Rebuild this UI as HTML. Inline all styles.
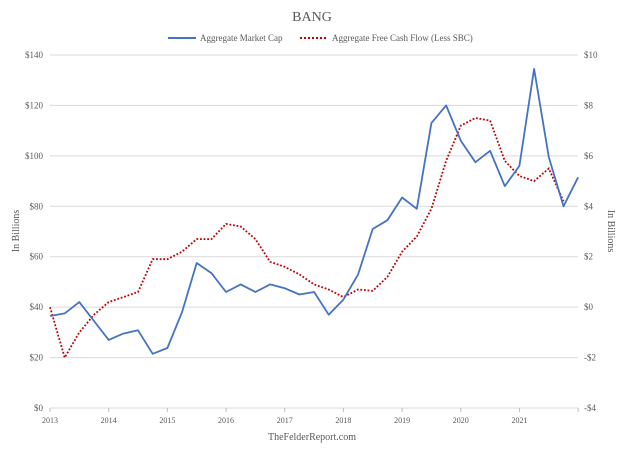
<!DOCTYPE html>
<html><head><meta charset="utf-8"><style>
html,body{margin:0;padding:0;background:#fff;}
svg text{font-family:"Liberation Serif",serif;fill:#595959;}
</style></head><body>
<svg id="c" width="624" height="451" xmlns="http://www.w3.org/2000/svg">
<text x="312" y="21" font-size="14" text-anchor="middle" fill="#444">BANG</text>
<line x1="168" y1="38" x2="196" y2="38" stroke="#4472C4" stroke-width="2"/>
<text x="200" y="41" font-size="9">Aggregate Market Cap</text>
<line x1="300" y1="38" x2="328" y2="38" stroke="#C00000" stroke-width="2" stroke-dasharray="2,2"/>
<text x="332" y="41" font-size="9">Aggregate Free Cash Flow (Less SBC)</text>
<text transform="translate(19,231) rotate(-90)" font-size="10" text-anchor="middle">In Billions</text>
<text transform="translate(608,231) rotate(90)" font-size="10" text-anchor="middle">In Billions</text>
<text x="312" y="440" font-size="10" text-anchor="middle">TheFelderReport.com</text>
<g id="g"></g>
</svg>
<script>
var g=document.getElementById('g'),s='';
var x0=50,dx=14.67,yt=55,yb=408;
function Y(v){return yb-(v/140)*(yb-yt);}
function YR(v){return yb-((v+4)/14)*(yb-yt);}
for(var i=0;i<=7;i++){var y=Y(i*20);
s+='<line x1="50" x2="578" y1="'+y+'" y2="'+y+'" stroke="#d9d9d9" stroke-width="1"/>';
s+='<text x="43" y="'+(y+3)+'" font-size="9" text-anchor="end">$'+(i*20)+'</text>';
var r=-4+i*2;s+='<text x="584" y="'+(y+3)+'" font-size="9">'+(r<0?'-$'+(-r):'$'+r)+'</text>';}
for(var k=0;k<=9;k++){var x=x0+k*58.68;s+='<line x1="'+x+'" x2="'+x+'" y1="408" y2="412" stroke="#bfbfbf"/>';
if(k<9)s+='<text x="'+x+'" y="423" font-size="8" text-anchor="middle">'+(2013+k)+'</text>';}
var mc=[36.5,37.5,42,34.5,27,29.5,30.8,21.5,23.8,38,57.5,53.5,46,49,46,49,47.5,45,46,37,43,53,71,74.5,83.5,79,113,120,106,97.5,102,88,96,134.5,99.5,80,91.5];
var fc=[0,-2,-1,-0.3,0.2,0.4,0.6,1.9,1.9,2.2,2.7,2.7,3.3,3.2,2.7,1.8,1.6,1.3,0.9,0.7,0.4,0.7,0.65,1.2,2.2,2.8,3.9,5.8,7.2,7.5,7.4,5.8,5.2,5.0,5.5,4.2];
var p=mc.map(function(v,i){return (x0+i*dx).toFixed(1)+','+Y(v).toFixed(1)}).join(' ');
var q=fc.map(function(v,i){return (x0+i*dx).toFixed(1)+','+YR(v).toFixed(1)}).join(' ');
s+='<polyline points="'+q+'" fill="none" stroke="#C00000" stroke-width="1.8" stroke-dasharray="1.8,1.8"/>';
s+='<polyline points="'+p+'" fill="none" stroke="#4472C4" stroke-width="1.8" stroke-linejoin="round"/>';
g.innerHTML=s;
</script>
</body></html>
